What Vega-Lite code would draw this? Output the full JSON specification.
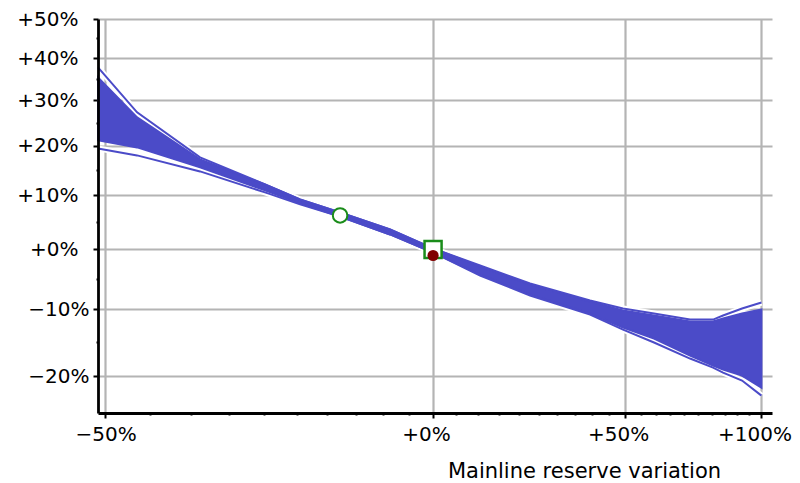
{
  "$schema": "https://vega.github.io/schema/vega-lite/v6.json",
  "width": 674,
  "height": 394,
  "autosize": {"type": "none"},
  "padding": {"left": 98, "top": 19, "right": 28, "bottom": 70},
  "background": "white",
  "config": {
    "view": {"stroke": null},
    "axis": {"labelFont": "DejaVu Sans", "titleFont": "DejaVu Sans", "labelColor": "black", "titleColor": "black"}
  },
  "datasets": {
    "fan": [
      {"x": 0.493, "U": 1.3777, "T": 1.3537, "B": 1.2116, "L": 1.1946},
      {"x": 0.5354, "U": 1.2728, "T": 1.2616, "B": 1.1967, "L": 1.18},
      {"x": 0.6115, "U": 1.1758, "T": 1.1717, "B": 1.1553, "L": 1.1472},
      {"x": 0.7014, "U": 1.1212, "T": 1.1212, "B": 1.1095, "L": 1.1056},
      {"x": 0.7552, "U": 1.092, "T": 1.092, "B": 1.0844, "L": 1.0825},
      {"x": 0.8218, "U": 1.0673, "T": 1.0673, "B": 1.0598, "L": 1.0598},
      {"x": 0.9132, "U": 1.0358, "T": 1.0358, "B": 1.0268, "L": 1.0268},
      {"x": 1.0, "U": 1.0018, "T": 1.0018, "B": 0.9947, "L": 0.9947},
      {"x": 1.1043, "U": 0.9722, "T": 0.9705, "B": 0.9569, "L": 0.9553},
      {"x": 1.2272, "U": 0.9419, "T": 0.9402, "B": 0.9238, "L": 0.9222},
      {"x": 1.3929, "U": 0.9141, "T": 0.9125, "B": 0.8934, "L": 0.8918},
      {"x": 1.4933, "U": 0.9013, "T": 0.8982, "B": 0.8717, "L": 0.8686},
      {"x": 1.5942, "U": 0.8934, "T": 0.8903, "B": 0.855, "L": 0.849},
      {"x": 1.7202, "U": 0.884, "T": 0.8809, "B": 0.8298, "L": 0.8254},
      {"x": 1.8058, "U": 0.884, "T": 0.8809, "B": 0.8153, "L": 0.8124},
      {"x": 1.8443, "U": 0.8903, "T": 0.8856, "B": 0.8095, "L": 0.8053},
      {"x": 1.9197, "U": 0.9013, "T": 0.8934, "B": 0.8011, "L": 0.7941},
      {"x": 2.0, "U": 0.9109, "T": 0.8998, "B": 0.7843, "L": 0.7733}
    ],
    "pts": [
      {"x": 0.8218, "y": 1.0617, "kind": "circle"},
      {"x": 1.0, "y": 1.0, "kind": "square"},
      {"x": 1.0, "y": 0.9895, "kind": "dot"}
    ]
  },
  "resolve": {"axis": {"x": "independent", "y": "independent"}},
  "layer": [
    {
      "data": {"name": "fan"},
      "transform": [{"fold": ["U", "L"], "as": ["series", "yv"]}],
      "mark": {"type": "line", "color": "white", "strokeWidth": 6},
      "encoding": {
        "x": {
          "field": "x", "type": "quantitative",
          "scale": {"type": "log", "domain": [0.493, 2.045], "nice": false, "zero": false},
          "axis": {
            "orient": "bottom", "values": [0.5, 1, 1.5, 2], "grid": true, "gridColor": "#b4b4b4", "gridWidth": 2.2,
            "domain": false, "ticks": true, "tickColor": "black", "tickWidth": 2, "tickSize": 5,
            "labelFontSize": 20, "labelPadding": 6, "labelFlush": false, "labelOffset": 1,
            "labelExpr": "datum.value >= 0.9999 ? '' : '\u2212' + format((1 - datum.value) * 100, '.0f') + '%'",
            "title": "Mainline reserve variation", "titleFontSize": 21, "titleFontWeight": "normal",
            "titleAlign": "center", "titleAnchor": null, "titleX": 486, "titleY": 64, "titleBaseline": "alphabetic",
            "zindex": 0
          }
        },
        "y": {
          "field": "yv", "type": "quantitative",
          "scale": {"type": "log", "domain": [0.75, 1.5], "nice": false, "zero": false},
          "axis": {
            "orient": "left", "values": [0.8, 0.9, 1.0, 1.1, 1.2, 1.3, 1.4, 1.5], "grid": true, "gridColor": "#b4b4b4", "gridWidth": 2.2,
            "domain": false, "ticks": true, "tickColor": "black", "tickWidth": 2, "tickSize": 5,
            "labelFontSize": 20, "labelPadding": 4, "labelFlush": false,
            "labelExpr": "datum.value >= 0.9999 ? '' : '\u2212' + format((1 - datum.value) * 100, '.0f') + '%'",
            "title": null, "zindex": 0
          }
        },
        "detail": {"field": "series"}
      }
    },
    {
      "data": {"name": "fan"},
      "mark": {"type": "area", "color": "#4b4bc8", "stroke": "#4b4bc8", "strokeWidth": 2, "opacity": 1},
      "encoding": {
        "x": {
          "field": "x", "type": "quantitative",
          "axis": {
            "orient": "bottom", "values": [1, 1.5, 2], "grid": false, "domain": true, "domainColor": "black", "domainWidth": 2.8,
            "ticks": false, "tickSize": 0, "labels": true, "labelFontSize": 20, "labelPadding": 11, "labelOffset": -7, "labelFlush": false,
            "labelExpr": "'+' + format((datum.value - 1) * 100, '.0f') + '%'",
            "title": null, "zindex": 1
          }
        },
        "y": {
          "field": "B", "type": "quantitative",
          "axis": {
            "orient": "left", "values": [1.0, 1.1, 1.2, 1.3, 1.4, 1.5], "grid": false, "domain": true, "domainColor": "black", "domainWidth": 2.8,
            "ticks": false, "tickSize": 0, "labels": true, "labelFontSize": 20, "labelPadding": 20, "labelFlush": false,
            "labelExpr": "'+' + format((datum.value - 1) * 100, '.0f') + '%'",
            "title": null, "zindex": 1
          }
        },
        "y2": {"field": "T"}
      }
    },
    {
      "data": {"name": "fan"},
      "transform": [{"fold": ["U", "L"], "as": ["series", "yv"]}],
      "mark": {"type": "line", "color": "#4b4bc8", "strokeWidth": 2},
      "encoding": {
        "x": {
          "field": "x", "type": "quantitative",
          "axis": {
            "orient": "bottom",
            "values": [0.55, 0.6, 0.65, 0.7, 0.75, 0.8, 0.85, 0.9, 0.95, 1.05, 1.1, 1.15, 1.2, 1.25, 1.3, 1.35, 1.4, 1.45, 1.55, 1.6, 1.65, 1.7, 1.75, 1.8, 1.85, 1.9, 1.95],
            "grid": false, "domain": false, "ticks": true, "tickColor": "black", "tickWidth": 2, "tickSize": 2, "labels": false, "title": null, "zindex": 1
          }
        },
        "y": {
          "field": "yv", "type": "quantitative",
          "axis": {
            "orient": "left", "values": [0.85, 0.95, 1.05, 1.15, 1.25, 1.35, 1.45],
            "grid": false, "domain": false, "ticks": true, "tickColor": "black", "tickWidth": 2, "tickSize": 2, "labels": false, "title": null, "zindex": 1
          }
        },
        "detail": {"field": "series"}
      }
    },
    {
      "data": {"name": "pts"},
      "transform": [{"filter": "datum.kind == 'circle'"}],
      "mark": {"type": "point", "shape": "circle", "filled": false, "fill": "white", "fillOpacity": 1, "stroke": "#1a8c1a", "strokeWidth": 2, "size": 210, "opacity": 1},
      "encoding": {
        "x": {"field": "x", "type": "quantitative", "axis": null},
        "y": {"field": "y", "type": "quantitative", "axis": null}
      }
    },
    {
      "data": {"name": "pts"},
      "transform": [{"filter": "datum.kind == 'square'"}],
      "mark": {"type": "point", "shape": "square", "filled": false, "fill": "white", "fillOpacity": 1, "stroke": "#1a8c1a", "strokeWidth": 2.5, "size": 290, "opacity": 1},
      "encoding": {
        "x": {"field": "x", "type": "quantitative", "axis": null},
        "y": {"field": "y", "type": "quantitative", "axis": null}
      }
    },
    {
      "data": {"name": "pts"},
      "transform": [{"filter": "datum.kind == 'dot'"}],
      "mark": {"type": "point", "shape": "circle", "filled": true, "color": "#800000", "size": 125, "opacity": 1},
      "encoding": {
        "x": {"field": "x", "type": "quantitative", "axis": null},
        "y": {"field": "y", "type": "quantitative", "axis": null}
      }
    }
  ]
}
